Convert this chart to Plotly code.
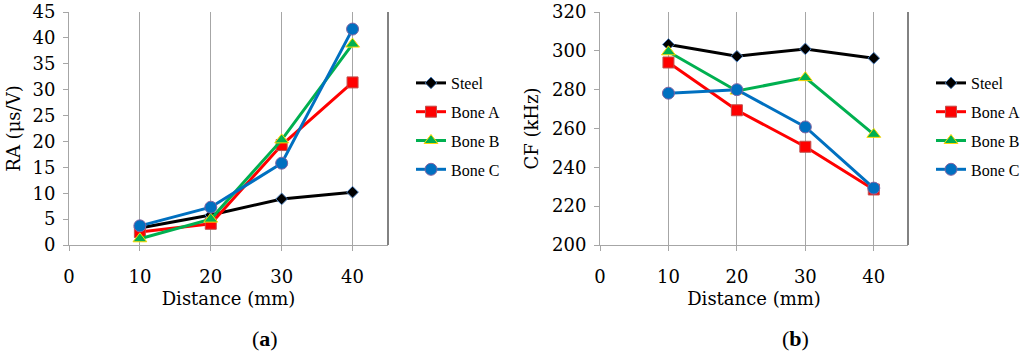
import plotly.graph_objects as go

distance = [10, 20, 30, 40]
series_names = ["Steel", "Bone A", "Bone B", "Bone C"]
ra_steel = [3.3, 5.8, 8.9, 10.2]
ra_bone_a = [2.5, 4.1, 19.3, 31.4]
ra_bone_b = [1.2, 5.0, 20.3, 38.8]
ra_bone_c = [3.7, 7.3, 15.8, 41.7]
cf_steel = [303.3, 297.2, 301.0, 296.2]
cf_bone_a = [294.0, 269.4, 250.6, 228.6]
cf_bone_b = [299.5, 279.3, 286.2, 257.0]
cf_bone_c = [278.2, 280.0, 260.8, 229.3]

colors = ["#000000", "#FF0000", "#00B050", "#0070C0"]
edge_colors = ["#4F81BD", "#C0504D", "#FFD700", "#8064A2"]
symbols = ["diamond", "square", "triangle-up", "circle"]
msizes = [9, 11, 12, 12]

fig = go.Figure()

serif = "DejaVu Serif"

ra = [ra_steel, ra_bone_a, ra_bone_b, ra_bone_c]
cf = [cf_steel, cf_bone_a, cf_bone_b, cf_bone_c]

for i, name in enumerate(series_names):
    fig.add_trace(go.Scatter(
        x=distance, y=ra[i], name=name, mode="lines+markers",
        line=dict(color=colors[i], width=3),
        marker=dict(symbol=symbols[i], size=msizes[i], color=colors[i],
                    line=dict(color=edge_colors[i], width=1)),
        xaxis="x", yaxis="y", legend="legend", legendgroup="a" + name,
    ))
for i, name in enumerate(series_names):
    fig.add_trace(go.Scatter(
        x=distance, y=cf[i], name=name, mode="lines+markers",
        line=dict(color=colors[i], width=3),
        marker=dict(symbol=symbols[i], size=msizes[i], color=colors[i],
                    line=dict(color=edge_colors[i], width=1)),
        xaxis="x2", yaxis="y2", legend="legend2", legendgroup="b" + name,
    ))

W, H = 1024, 358
ydom = [(H - 245) / H, (H - 12) / H]

xcommon = dict(range=[0, 45], tickvals=[0, 10, 20, 30, 40], showgrid=True,
               gridcolor="#A6A6A6", gridwidth=1, showline=True, linecolor="#A6A6A6",
               linewidth=1, ticks="outside", ticklen=5, tickcolor="#A6A6A6",
               zeroline=False, automargin=False, ticklabelstandoff=10,
               tickfont=dict(family=serif, size=18, color="#000"),
               title=dict(text="Distance (mm)", font=dict(family=serif, size=18, color="#000"),
                          standoff=6))
ycommon = dict(showgrid=False, showline=True, linecolor="#A6A6A6", linewidth=1,
               ticks="outside", ticklen=5, tickcolor="#A6A6A6", zeroline=False,
               automargin=False, ticklabelstandoff=4,
               tickfont=dict(family=serif, size=18, color="#000"))

fig.update_layout(
    width=W, height=H,
    margin=dict(l=0, r=0, t=0, b=0, autoexpand=False),
    paper_bgcolor="white", plot_bgcolor="white",
    xaxis=dict(domain=[69 / W, 388 / W], anchor="y", **xcommon),
    yaxis=dict(domain=ydom, anchor="x", range=[0, 45], dtick=5,
               title=dict(text="RA (μs/V)", font=dict(family=serif, size=18, color="#000"),
                          standoff=7), **ycommon),
    xaxis2=dict(domain=[600 / W, 908 / W], anchor="y2", **xcommon),
    yaxis2=dict(domain=ydom, anchor="x2", range=[200, 320], dtick=20,
                title=dict(text="CF (kHz)", font=dict(family=serif, size=18, color="#000"),
                           standoff=8), **ycommon),
    legend=dict(x=411 / W, y=1 - 66 / H, xanchor="left", yanchor="top",
                font=dict(family="Liberation Serif", size=16, color="#000"),
                bgcolor="rgba(0,0,0,0)", itemwidth=30, tracegroupgap=5),
    legend2=dict(x=931 / W, y=1 - 66 / H, xanchor="left", yanchor="top",
                 font=dict(family="Liberation Serif", size=16, color="#000"),
                 bgcolor="rgba(0,0,0,0)", itemwidth=30, tracegroupgap=5),
    shapes=[
        dict(type="line", xref="x domain", yref="y domain", x0=1, x1=1, y0=0, y1=1,
             line=dict(color="#595959", width=1.5)),
        dict(type="line", xref="x2 domain", yref="y2 domain", x0=1, x1=1, y0=0, y1=1,
             line=dict(color="#595959", width=1.5)),
    ],
    annotations=[
        dict(text="(<b>a</b>)", x=265 / W, y=1 - 338 / H, xref="paper", yref="paper",
             xanchor="center", yanchor="middle",
             showarrow=False, font=dict(family="Liberation Serif", size=22, color="#000")),
        dict(text="(<b>b</b>)", x=795 / W, y=1 - 338 / H, xref="paper", yref="paper",
             xanchor="center", yanchor="middle",
             showarrow=False, font=dict(family="Liberation Serif", size=22, color="#000")),
    ],
)

fig.write_html("out.html", config={"displayModeBar": False},
               post_script="document.body.style.margin='0';")
